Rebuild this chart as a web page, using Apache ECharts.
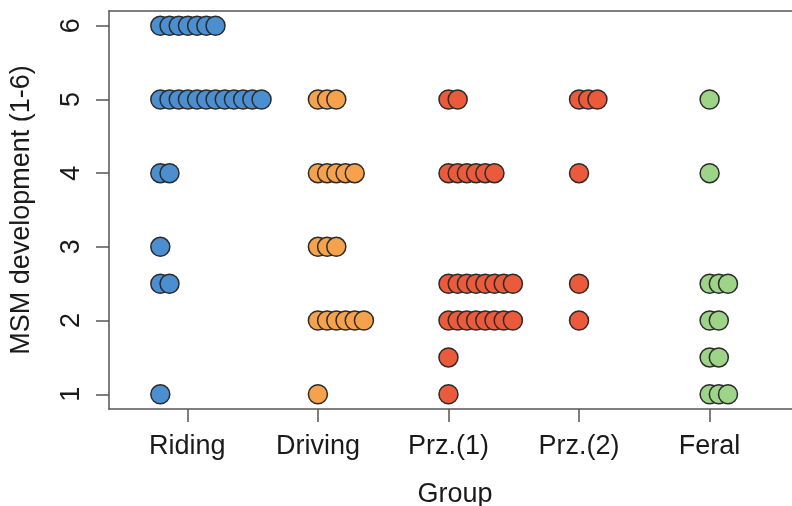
<!DOCTYPE html>
<html><head><meta charset="utf-8">
<script src="https://cdn.jsdelivr.net/npm/echarts@6/dist/echarts.min.js"></script>
<style>html,body{margin:0;padding:0;background:#fff}#c{width:792px;height:506px}</style>
</head><body><div id="c"></div>
<script>
// ---- data ----
const groups = ["Riding", "Driving", "Prz.(1)", "Prz.(2)", "Feral"];
const levels = [6, 5, 4, 3, 2.5, 2, 1.5, 1];           // MSM scores
const ridingCounts  = [7, 12, 2, 1, 2, 0, 0, 1];
const drivingCounts = [0, 3, 5, 3, 0, 6, 0, 1];
const prz1Counts    = [0, 2, 6, 0, 8, 8, 1, 1];
const prz2Counts    = [0, 3, 1, 0, 1, 1, 0, 0];
const feralCounts   = [0, 1, 1, 0, 3, 2, 2, 3];
const yTicks = [1, 2, 3, 4, 5, 6];
const xTicks = [1, 2, 3, 4, 5];

// ---- layout / style ----
const counts = [ridingCounts, drivingCounts, prz1Counts, prz2Counts, feralCounts];
const colors = ["#4b8fd1", "#f6a24c", "#ec5a3c", "#ec5a3c", "#9dd488"];
const groupShift = [-0.207, 0, 0, 0, 0];   // stack start offset (axis units)
const stackStep = 0.0705;                   // stacking offset per point (axis units)

const series = groups.map((g, gi) => {
  const data = [];
  levels.forEach((lv, li) => {
    for (let k = 0; k < counts[gi][li]; k++) {
      data.push([gi + 1 + groupShift[gi] + k * stackStep, lv]);
    }
  });
  return {
    type: 'scatter', name: g, data,
    symbol: 'circle', symbolSize: 19,
    itemStyle: { color: colors[gi], borderColor: '#2b2b2b', borderWidth: 1.5, opacity: 1 },
    emphasis: { disabled: true }, animation: false
  };
});

const font = 'Liberation Sans, Arial, Helvetica, sans-serif';
const frame = { show: true, onZero: false, lineStyle: { color: '#555', width: 1.5 } };
const chart = echarts.init(document.getElementById('c'), null, { renderer: 'canvas' });
chart.setOption({
  animation: false,
  grid: { left: 109, top: 11, width: 692, height: 398, show: false, outerBoundsMode: 'none', containLabel: false },
  xAxis: [{
    type: 'value', min: 0.4, max: 5.7, position: 'bottom',
    name: 'Group', nameLocation: 'middle', nameGap: 72,
    nameTextStyle: { fontFamily: font, fontSize: 27, color: '#1a1a1a' },
    axisLine: frame,
    axisTick: { show: true, length: 13, customValues: xTicks, lineStyle: { color: '#555', width: 1.5 } },
    axisLabel: { customValues: xTicks, margin: 24, fontFamily: font, fontSize: 27, color: '#1a1a1a',
      formatter: v => groups[Math.round(v) - 1] || '' },
    splitLine: { show: false }
  }, {
    type: 'value', min: 0.4, max: 5.7, position: 'top',
    axisLine: frame, axisTick: { show: false }, axisLabel: { show: false }, splitLine: { show: false }
  }],
  yAxis: {
    type: 'value', min: 0.8, max: 6.2, position: 'left',
    name: 'MSM development (1-6)', nameLocation: 'middle', nameGap: 74,
    nameTextStyle: { fontFamily: font, fontSize: 27, color: '#1a1a1a' },
    axisLine: frame,
    axisTick: { show: true, length: 13, customValues: yTicks, lineStyle: { color: '#555', width: 1.5 } },
    axisLabel: { customValues: yTicks, rotate: 90, margin: 24, fontFamily: font, fontSize: 27, color: '#1a1a1a' },
    splitLine: { show: false }
  },
  series
});
</script></body></html>
